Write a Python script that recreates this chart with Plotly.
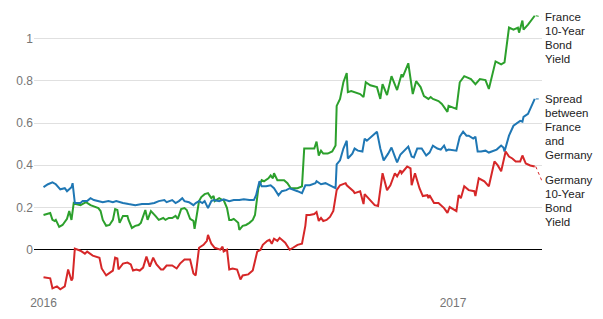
import pandas as pd
import plotly.graph_objects as go

BASE = "2016-01-01"

# days since 2016-01-01 and values (percentage points)
france_day = [0, 6, 8, 10, 11, 14, 17, 19, 21, 23, 25, 27, 29, 33, 35, 38, 42, 49, 51, 53, 56, 59, 62, 64, 66, 68,
              71, 75, 76, 79, 82, 85, 87, 91, 93, 96, 100, 103, 107, 109, 112, 115, 118, 120, 123, 126, 128, 131,
              134, 135, 139, 141, 144, 147, 150, 152, 153, 157, 160, 161, 164, 166, 168, 170, 174, 175, 178, 181,
              184, 187, 189, 192, 195, 197, 201, 203, 205, 206, 209, 212, 215, 218, 221, 227, 231, 233, 236, 242,
              244, 246, 248, 250, 254, 258, 261, 262, 265, 268, 271, 272, 275, 278, 283, 286, 288, 292, 296, 298,
              301, 303, 307, 311, 316, 320, 321, 326, 330, 333, 337, 340, 344, 346, 348, 353, 356, 361, 362, 369,
              372, 376, 382, 386, 390, 395, 398, 402, 404, 409, 412, 416, 420, 424, 425, 428, 429, 433, 436, 439]
france_val = [0.164, 0.174, 0.141, 0.136, 0.141, 0.108, 0.117, 0.131, 0.146, 0.183, 0.141, 0.221, 0.216, 0.211,
              0.216, 0.225, 0.211, 0.197, 0.183, 0.141, 0.113, 0.117, 0.141, 0.192, 0.188, 0.127, 0.160, 0.160,
              0.141, 0.103, 0.113, 0.117, 0.127, 0.188, 0.141, 0.183, 0.160, 0.141, 0.150, 0.141, 0.150, 0.150,
              0.160, 0.146, 0.192, 0.197, 0.188, 0.146, 0.136, 0.099, 0.230, 0.249, 0.263, 0.268, 0.244, 0.254,
              0.230, 0.244, 0.235, 0.235, 0.197, 0.141, 0.141, 0.146, 0.127, 0.094, 0.113, 0.117, 0.127, 0.141,
              0.164, 0.291, 0.329, 0.324, 0.338, 0.352, 0.338, 0.362, 0.329, 0.329, 0.329, 0.315, 0.291, 0.291,
              0.300, 0.479, 0.479, 0.479, 0.512, 0.446, 0.469, 0.455, 0.455, 0.465, 0.493, 0.681, 0.714, 0.793,
              0.836, 0.746, 0.751, 0.746, 0.737, 0.723, 0.793, 0.779, 0.775, 0.770, 0.714, 0.784, 0.732, 0.822,
              0.756, 0.831, 0.817, 0.883, 0.737, 0.798, 0.770, 0.728, 0.714, 0.723, 0.714, 0.704, 0.690, 0.653,
              0.681, 0.667, 0.793, 0.822, 0.808, 0.784, 0.808, 0.803, 0.761, 0.845, 0.892, 0.878, 0.887, 1.052,
              1.042, 1.052, 1.028, 1.085, 1.042, 1.066, 1.085, 1.108]

spread_day = [0, 4, 8, 11, 15, 19, 21, 25, 26, 28, 33, 35, 39, 42, 45, 49, 53, 58, 62, 65, 68, 71, 76, 82, 88, 94,
              99, 103, 108, 110, 115, 118, 121, 124, 126, 130, 134, 136, 139, 142, 144, 147, 150, 152, 157, 161,
              166, 170, 175, 179, 184, 188, 190, 193, 195, 199, 203, 206, 210, 213, 217, 220, 227, 231, 234, 238,
              243, 244, 248, 252, 256, 261, 262, 265, 268, 271, 272, 276, 278, 281, 285, 287, 289, 294, 296, 298,
              301, 304, 308, 311, 314, 316, 319, 322, 326, 329, 331, 334, 338, 342, 345, 348, 352, 355, 358, 360,
              362, 369, 372, 375, 378, 380, 384, 386, 388, 391, 395, 398, 402, 405, 409, 411, 412, 416, 420, 424,
              426, 428, 429, 433, 436, 439]
spread_val = [0.296, 0.310, 0.319, 0.310, 0.286, 0.291, 0.277, 0.296, 0.315, 0.221, 0.221, 0.230, 0.230, 0.244,
              0.235, 0.230, 0.225, 0.230, 0.225, 0.230, 0.225, 0.221, 0.216, 0.211, 0.216, 0.216, 0.221, 0.230,
              0.235, 0.225, 0.235, 0.221, 0.230, 0.244, 0.230, 0.225, 0.211, 0.221, 0.230, 0.221, 0.230, 0.197,
              0.230, 0.235, 0.230, 0.239, 0.230, 0.235, 0.235, 0.239, 0.235, 0.235, 0.258, 0.324, 0.300, 0.300,
              0.305, 0.291, 0.258, 0.277, 0.282, 0.291, 0.277, 0.268, 0.305, 0.305, 0.315, 0.324, 0.310, 0.315,
              0.305, 0.291, 0.404, 0.423, 0.479, 0.516, 0.432, 0.455, 0.479, 0.469, 0.465, 0.526, 0.516, 0.540,
              0.554, 0.559, 0.479, 0.423, 0.455, 0.484, 0.441, 0.413, 0.451, 0.465, 0.488, 0.441, 0.437, 0.479,
              0.479, 0.446, 0.460, 0.493, 0.479, 0.474, 0.493, 0.469, 0.474, 0.469, 0.535, 0.559, 0.540, 0.540,
              0.526, 0.535, 0.465, 0.465, 0.469, 0.460, 0.469, 0.474, 0.493, 0.484, 0.465, 0.540, 0.587, 0.601,
              0.610, 0.606, 0.629, 0.643, 0.681, 0.714]

germany_day = [0, 6, 8, 12, 15, 19, 22, 25, 26, 28, 33, 37, 39, 44, 50, 52, 56, 62, 64, 66, 67, 71, 75, 78, 80, 83,
               86, 89, 92, 95, 98, 101, 105, 107, 110, 115, 119, 122, 126, 131, 134, 136, 139, 143, 146, 147, 150,
               153, 158, 160, 161, 164, 166, 169, 173, 176, 178, 183, 187, 191, 194, 196, 200, 202, 204, 206, 209,
               211, 216, 220, 223, 227, 231, 234, 235, 238, 242, 244, 246, 248, 250, 253, 256, 259, 262, 265, 270,
               271, 277, 278, 283, 286, 287, 292, 296, 299, 303, 307, 310, 314, 316, 319, 320, 325, 328, 329, 332,
               336, 339, 343, 344, 345, 349, 353, 358, 361, 363, 369, 371, 373, 376, 380, 385, 386, 389, 394, 397,
               398, 403, 406, 409, 413, 416, 419, 422, 426, 428, 431, 435, 439]
germany_val = [-0.131, -0.136, -0.183, -0.174, -0.188, -0.174, -0.094, -0.146, -0.136, 0.005, -0.005, -0.019,
               -0.009, -0.028, -0.038, -0.089, -0.122, -0.099, -0.038, -0.042, -0.094, -0.066, -0.061, -0.070,
               -0.099, -0.094, -0.099, -0.085, -0.033, -0.080, -0.038, -0.070, -0.094, -0.094, -0.075, -0.075,
               -0.089, -0.066, -0.047, -0.047, -0.113, -0.122, 0.009, 0.023, 0.042, 0.070, 0.028, 0.009, 0.000,
               0.014, -0.009, 0.000, -0.094, -0.089, -0.094, -0.141, -0.122, -0.117, -0.099, -0.009, 0.000, 0.023,
               0.042, 0.047, 0.028, 0.052, 0.042, 0.056, 0.033, 0.000, 0.009, 0.023, 0.028, 0.113, 0.164, 0.164,
               0.169, 0.178, 0.136, 0.150, 0.136, 0.141, 0.155, 0.183, 0.282, 0.305, 0.315, 0.305, 0.277, 0.268,
               0.277, 0.216, 0.263, 0.235, 0.211, 0.207, 0.362, 0.282, 0.305, 0.362, 0.347, 0.376, 0.362, 0.394,
               0.385, 0.305, 0.362, 0.291, 0.254, 0.258, 0.244, 0.258, 0.221, 0.221, 0.197, 0.174, 0.202, 0.183,
               0.258, 0.244, 0.300, 0.282, 0.277, 0.254, 0.338, 0.324, 0.305, 0.300, 0.418, 0.399, 0.371, 0.465,
               0.441, 0.432, 0.418, 0.418, 0.446, 0.408, 0.399, 0.394]

labels = ["France 10-Year Bond Yield", "Spread between France and Germany", "Germany 10-Year Bond Yield"]
label_lines = [["France", "10-Year", "Bond", "Yield"],
               ["Spread", "between", "France", "and", "Germany"],
               ["Germany", "10-Year", "Bond", "Yield"]]
colors = ["#2ca02c", "#1f77b4", "#d62728"]
tick_vals = [0, 0.2, 0.4, 0.6, 0.8, 1]
x_tick_vals = ["2016-01-01", "2017-01-01"]
x_tick_text = ["2016", "2017"]


def to_dates(days):
    return pd.to_datetime(BASE) + pd.to_timedelta(days, unit="D")


series = [(france_day, france_val), (spread_day, spread_val), (germany_day, germany_val)]

fig = go.Figure()
for (d, v), name, c in zip(series, labels, colors):
    fig.add_trace(go.Scatter(x=to_dates(d), y=v, mode="lines", name=name,
                             line=dict(color=c, width=2)))

# label placement (pixel offsets of first line relative to series end) and leader lines
label_shift = [-1, 0, -14]
for (d, v), lines, c, sh in zip(series, label_lines, colors, label_shift):
    xe = to_dates(d)[-1]
    ye = v[-1]
    for i, t in enumerate(lines):
        fig.add_annotation(x=1, xref="paper", y=ye, yref="y", text=t, showarrow=False,
                           xanchor="left", yanchor="middle", xshift=1, yshift=sh - 14 * i,
                           font=dict(family="Liberation Sans, Arial", size=11.5, color="#222222"))
    fig.add_shape(type="line", xref="x", yref="y", xsizemode="pixel", ysizemode="pixel",
                  xanchor=xe, yanchor=ye, x0=1, x1=7, y0=0, y1=sh,
                  line=dict(color=c, width=1, dash="dot"))

fig.update_layout(
    width=603, height=319,
    margin=dict(l=34, r=61, t=9, b=22),
    paper_bgcolor="white", plot_bgcolor="white",
    showlegend=False,
    font=dict(family="Liberation Sans, Arial", size=12, color="#757575"),
    xaxis=dict(range=["2015-12-23 12:00", "2017-03-21 12:00"], tickvals=x_tick_vals, ticktext=x_tick_text,
               showgrid=False, zeroline=False, showline=False, ticks="",
               tickfont=dict(size=12, color="#757575")),
    yaxis=dict(range=[-0.21, 1.14], tickvals=tick_vals, showgrid=True, gridcolor="#e0e0e0", gridwidth=1,
               zeroline=True, zerolinecolor="#000000", zerolinewidth=1, showline=False, ticks="",
               tickfont=dict(size=12, color="#757575")),
)

fig.write_html("out.html")
